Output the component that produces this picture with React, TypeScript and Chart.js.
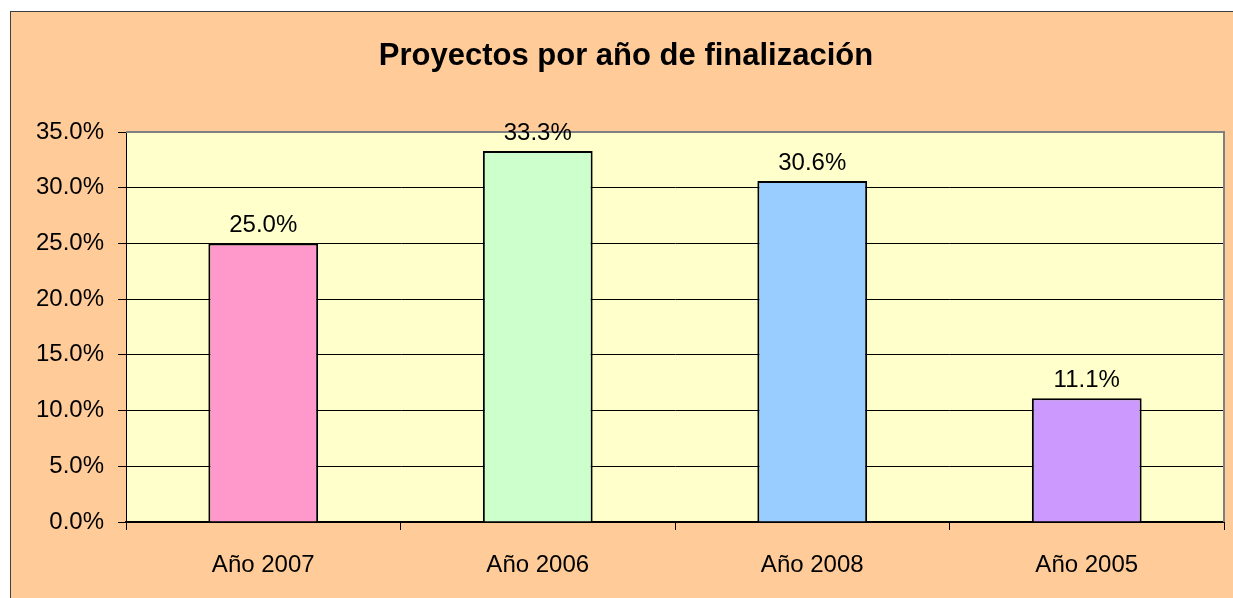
import React, { useEffect, useRef } from "react";
import { Chart, registerables } from "chart.js";

Chart.register(...registerables);

const titleText = "Proyectos por año de finalización";
const categories = ["Año 2007", "Año 2006", "Año 2008", "Año 2005"];
const values = [25.0, 33.3, 30.6, 11.1];
const barColors = ["#FF99CC", "#CCFFCC", "#99CCFF", "#CC99FF"];
const yMin = 0;
const yMax = 35;
const yStep = 5;

const FONT = "Arial, 'Liberation Sans', sans-serif";

const bgPlugin = {
  id: "bgPlugin",
  beforeDraw(chart: any) {
    const { ctx, chartArea } = chart;
    ctx.save();
    ctx.fillStyle = "#FFCC99";
    ctx.fillRect(0, 0, chart.width, chart.height);
    ctx.fillStyle = "#FFFFCC";
    ctx.fillRect(chartArea.left, chartArea.top, chartArea.right - chartArea.left, chartArea.bottom - chartArea.top);
    ctx.restore();
  },
  afterDraw(chart: any) {
    const { ctx, chartArea } = chart;
    ctx.save();
    ctx.strokeStyle = "#808080";
    ctx.lineWidth = 2;
    ctx.beginPath();
    ctx.moveTo(chartArea.left, chartArea.top);
    ctx.lineTo(chartArea.right, chartArea.top);
    ctx.lineTo(chartArea.right, chartArea.bottom);
    ctx.stroke();
    // title
    ctx.fillStyle = "#000";
    ctx.font = `bold 31px ${FONT}`;
    ctx.textAlign = "center";
    ctx.textBaseline = "middle";
    ctx.fillText(titleText, 615, 44);
    // data labels
    const meta = chart.getDatasetMeta(0);
    ctx.font = `24px ${FONT}`;
    meta.data.forEach((el: any, i: number) => {
      ctx.fillText(values[i].toFixed(1) + "%", el.x, el.y - 18);
    });
    ctx.restore();
  },
};

export default function App() {
  const ref = useRef<HTMLCanvasElement>(null);
  useEffect(() => {
    if (!ref.current) return;
    const chart = new Chart(ref.current, {
      type: "bar",
      data: {
        labels: categories,
        datasets: [
          {
            data: values,
            backgroundColor: barColors,
            borderColor: "#000",
            borderWidth: 2,
            borderSkipped: "bottom",
            barPercentage: 0.4,
            categoryPercentage: 1,
          },
        ],
      },
      options: {
        animation: false,
        responsive: false,
        maintainAspectRatio: false,
        layout: { padding: { left: 0, right: 9, top: 120, bottom: 0 } },
        plugins: {
          legend: { display: false },
          tooltip: { enabled: false },
          title: { display: false },
        },
        scales: {
          x: {
            offset: true,
            grid: {
              offset: true,
              drawOnChartArea: false,
              drawTicks: true,
              tickLength: 8,
              color: "#000",
            },
            border: { display: true, color: "#000", width: 2 },
            ticks: {
              color: "#000",
              font: { family: FONT, size: 24 },
              padding: 21,
              maxRotation: 0,
            },
            afterFit(scale: any) {
              scale.height = 76;
            },
          },
          y: {
            min: yMin,
            max: yMax,
            grid: {
              color: "#000",
              lineWidth: 1,
              drawTicks: true,
              tickLength: 8,
            },
            border: { display: true, color: "#000", width: 1 },
            ticks: {
              stepSize: yStep,
              color: "#000",
              font: { family: FONT, size: 24 },
              padding: 14,
              callback: (v: any) => Number(v).toFixed(1) + "%",
            },
            afterFit(scale: any) {
              scale.width = 115;
            },
          },
        },
      },
      plugins: [bgPlugin],
    } as any);
    return () => chart.destroy();
  }, []);

  return (
    <div style={{ position: "fixed", inset: 0, overflow: "hidden", background: "#fff" }}>
      <div
        style={{
          position: "absolute",
          left: 10,
          top: 11,
          borderLeft: "1px solid #404040",
          borderTop: "1px solid #404040",
          width: 1222,
          height: 586,
        }}
      >
        <canvas ref={ref} width={1222} height={586} style={{ display: "block", width: 1222, height: 586 }} />
      </div>
    </div>
  );
}
